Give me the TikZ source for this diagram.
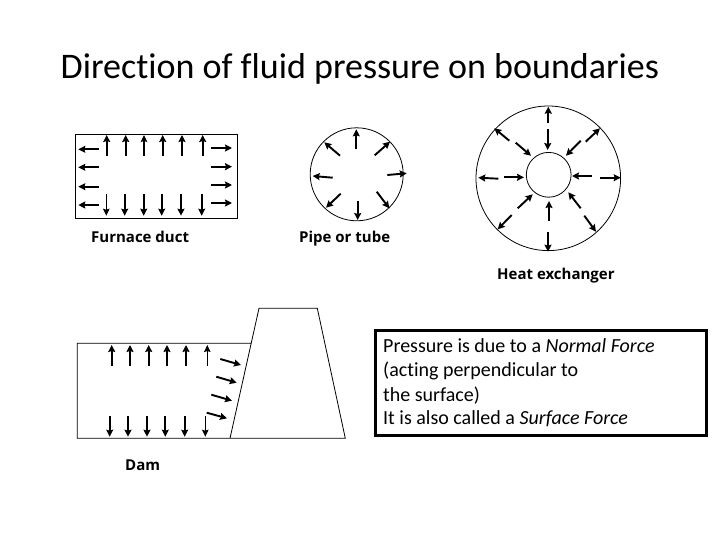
\documentclass[tikz,border=0pt]{standalone}
\usepackage{fontspec}
\setmainfont[Ligatures=NoCommon]{Carlito}
\newfontfamily\labelfont{Open Sans}
\usetikzlibrary{arrows.meta}
\tikzset{
  parrow/.style={-{Stealth[length=7pt,width=7pt,inset=1pt]},line width=1.9pt},
  thinparrow/.style={-{Stealth[length=7pt,width=6.5pt,inset=1pt]},line width=1.1pt},
  wall/.style={line width=0.8pt},
  caption/.style={anchor=base west,inner sep=0pt,font=\labelfont\bfseries\fontsize{15}{17}\selectfont},
  noteline/.style={anchor=base west,inner sep=0pt,font=\fontsize{20}{22}\selectfont},
}

\begin{document}
\begin{tikzpicture}[x=1pt,y=-1pt]
  \useasboundingbox (0,0) rectangle (720,540);
  \node[anchor=base west,inner sep=0pt,font=\fontsize{36}{40}\selectfont] (title) at (60.5,79) {Direction of fluid pressure on boundaries};

  % furnace duct
  \draw[wall] (75.3,134) rectangle (237,218);
  \draw[parrow] (106.7,155.7)--(106.7,135);
  \draw[parrow] (125.7,155.7)--(125.7,135);
  \draw[thinparrow] (144,155.7)--(144,135);
  \draw[parrow] (162.7,155.7)--(162.7,135);
  \draw[parrow] (182,155.7)--(182,135);
  \draw[parrow] (202.7,155.7)--(202.7,135);
  \draw[thinparrow] (106.3,194)--(106.3,215.7);
  \draw[parrow] (124.7,194)--(124.7,215.7);
  \draw[parrow] (143.7,194)--(143.7,215.7);
  \draw[parrow] (161.7,194)--(161.7,215.7);
  \draw[parrow] (181,194)--(181,215.7);
  \draw[parrow] (201.7,194)--(201.7,215.7);
  \draw[parrow] (99,149.3)--(78.3,149.3);
  \draw[parrow] (99,167.3)--(78.3,167.3);
  \draw[parrow] (99,186.7)--(78.3,186.7);
  \draw[parrow] (99,205)--(78.3,205);
  \draw[parrow] (211,148)--(232,148);
  \draw[parrow] (211,166.7)--(232,166.7);
  \draw[parrow] (211,185)--(232,185);
  \draw[parrow] (211,203)--(232,203);
  \node[caption] (ductlabel) at (91,242.7) {Furnace duct};

  % pipe
  \draw[wall] (356.7,174.3) circle (46.5);
  \draw[parrow] (356.3,149.3)--(356.3,129.3);
  \draw[parrow] (374.7,155.3)--(390,141.7);
  \draw[parrow] (387.3,175)--(406.7,173.3);
  \draw[parrow] (376.7,191.7)--(389.3,208.3);
  \draw[parrow] (357.7,201)--(357.7,220);
  \draw[parrow] (340.7,193.7)--(326,207.7);
  \draw[parrow] (332.7,177.7)--(312.7,176);
  \draw[parrow] (340,155.7)--(324.3,142.3);
  \node[caption] (pipelabel) at (299,242.7) {Pipe or tube};

  % heat exchanger
  \draw[wall] (548.3,178.3) circle (72.3);
  \draw[wall] (548.7,174.8) circle (22.4);
  \draw[parrow] (548.3,123.3)--(548.3,106.7);
  \draw[parrow] (547.7,129.3)--(547.7,150);
  \draw[parrow] (585.7,141.7)--(600,128.3);
  \draw[parrow] (580.7,140.7)--(566,155.7);
  \draw[parrow] (591.7,176)--(572,176);
  \draw[parrow] (600,177.7)--(620.7,177.7);
  \draw[parrow] (580.7,208.3)--(568.3,192.3);
  \draw[parrow] (584.3,215.7)--(596,231.7);
  \draw[parrow] (549,220.7)--(549,201);
  \draw[parrow] (548,232)--(548,251.7);
  \draw[parrow] (517.7,208.3)--(532.7,194.3);
  \draw[parrow] (511.7,215)--(497.7,229.3);
  \draw[parrow] (504.3,177.3)--(524,177.3);
  \draw[parrow] (498.3,178.7)--(478.3,177.7);
  \draw[parrow] (509.3,140.7)--(494.3,128.3);
  \draw[parrow] (515.7,142.7)--(531,155.7);
  \node[caption] (hxlabel) at (497,279) {Heat exchanger};

  % dam
  \draw[wall] (250.7,343.3)--(77.3,343.3)--(77.3,438.3)--(345.3,438.3)--(317.3,308.3)--(259,308.3)--(230,438.3);
  \draw[parrow] (111.7,365.7)--(111.7,345);
  \draw[parrow] (130,365.7)--(130,345);
  \draw[parrow] (148.7,365.7)--(148.7,345);
  \draw[parrow] (167,365.7)--(167,345);
  \draw[parrow] (186,365.7)--(186,345);
  \draw[thinparrow] (207.3,365.7)--(207.3,345);
  \draw[parrow] (109.7,416)--(109.7,436.7);
  \draw[parrow] (128,416)--(128,436.7);
  \draw[parrow] (147,416)--(147,436.7);
  \draw[parrow] (165.3,416)--(165.3,436.7);
  \draw[parrow] (184.7,416)--(184.7,436.7);
  \draw[thinparrow] (205.3,416)--(205.3,436.7);
  \draw[parrow] (220.3,359)--(241,365);
  \draw[parrow] (216.3,376.7)--(236.7,382.7);
  \draw[parrow] (211.3,394.7)--(232,400.7);
  \draw[parrow] (206.7,412.7)--(227,418.3);
  \node[caption] (damlabel) at (125,470) {Dam};

  % note
  \draw[line width=3pt] (375.5,330.3) rectangle (706.7,435);
  \node[noteline] (noteA) at (383,352.7) {Pressure is due to a \textit{Normal Force}};
  \node[noteline] (noteB) at (383,376.7) {(acting perpendicular to};
  \node[noteline] (noteC) at (383,401) {the surface)};
  \node[noteline] (noteD) at (383,424.3) {It is also called a \textit{Surface Force}};
\end{tikzpicture}
\end{document}
